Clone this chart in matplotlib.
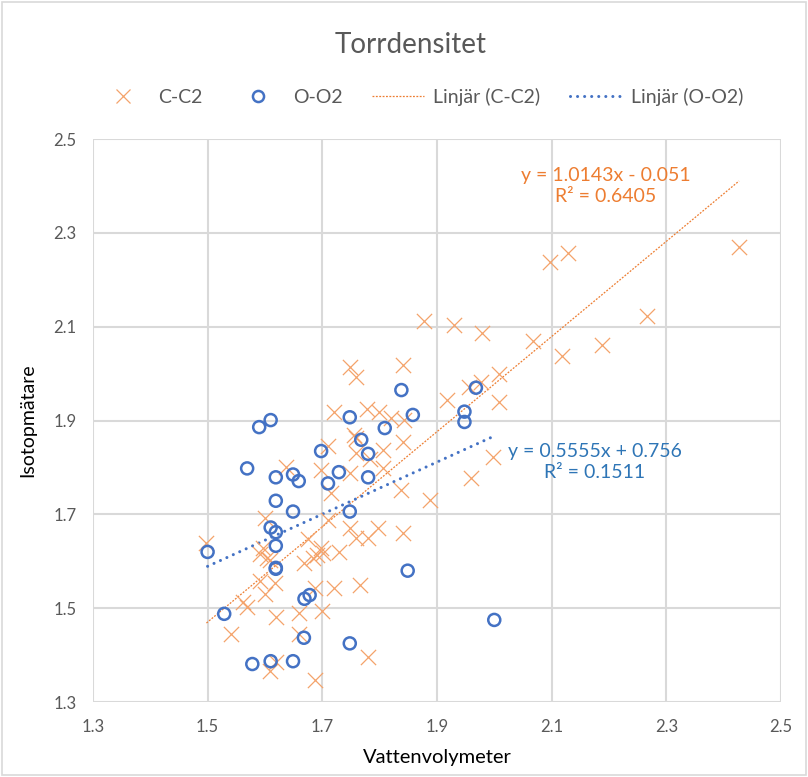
import numpy as np
import matplotlib
matplotlib.use("Agg")
import matplotlib.pyplot as plt
import matplotlib.patches as mpatches
from matplotlib.lines import Line2D

plt.rcParams['font.family'] = ['Lato', 'DejaVu Sans']

# C-C2 (orange crosses)
cc_x = [1.498, 1.540, 1.561, 1.569, 1.591, 1.591, 1.597, 1.600, 1.600, 1.603,
        1.608, 1.608, 1.617, 1.619, 1.619, 1.637, 1.659, 1.659, 1.669, 1.675,
        1.684, 1.688, 1.688, 1.690, 1.698, 1.698, 1.701, 1.700, 1.710, 1.710,
        1.716, 1.720, 1.720, 1.729, 1.748, 1.749, 1.749, 1.756, 1.758, 1.758,
        1.758, 1.759, 1.765, 1.778, 1.780, 1.780, 1.784, 1.797, 1.799, 1.806,
        1.806, 1.820, 1.838, 1.840, 1.840, 1.840, 1.842, 1.878, 1.888, 1.917,
        1.929, 1.956, 1.959, 1.977, 1.979, 1.997, 2.008, 2.008, 2.067, 2.098,
        2.118, 2.128, 2.188, 2.267, 2.427]
cc_y = [1.638, 1.445, 1.514, 1.502, 1.616, 1.557, 1.628, 1.692, 1.530, 1.606,
        1.603, 1.367, 1.553, 1.482, 1.386, 1.800, 1.490, 1.445, 1.596, 1.647,
        1.606, 1.542, 1.347, 1.613, 1.795, 1.628, 1.617, 1.495, 1.846, 1.689,
        1.745, 1.919, 1.544, 1.620, 1.670, 2.015, 1.789, 1.869, 1.862, 1.992,
        1.830, 1.649, 1.549, 1.924, 1.649, 1.397, 1.817, 1.670, 1.919, 1.837,
        1.798, 1.905, 1.752, 2.019, 1.855, 1.660, 1.901, 2.112, 1.731, 1.944,
        2.104, 1.972, 1.777, 1.983, 2.086, 1.823, 1.999, 1.939, 2.070, 2.237,
        2.038, 2.257, 2.061, 2.122, 2.271]

# O-O2 (blue circles)
oo_x = [1.500, 1.529, 1.569, 1.578, 1.590, 1.610, 1.610, 1.610, 1.619, 1.619,
        1.619, 1.619, 1.619, 1.619, 1.649, 1.649, 1.649, 1.659, 1.668, 1.669,
        1.678, 1.698, 1.710, 1.729, 1.748, 1.748, 1.748, 1.768, 1.780, 1.780,
        1.809, 1.838, 1.849, 1.858, 1.948, 1.948, 1.968, 2.000]
oo_y = [1.620, 1.488, 1.798, 1.381, 1.886, 1.901, 1.672, 1.387, 1.779, 1.729,
        1.662, 1.633, 1.586, 1.584, 1.785, 1.706, 1.387, 1.771, 1.437, 1.520,
        1.528, 1.835, 1.766, 1.790, 1.907, 1.706, 1.425, 1.859, 1.829, 1.779,
        1.884, 1.965, 1.580, 1.912, 1.919, 1.897, 1.970, 1.475]

# trendline coefficients as shown in the chart
cc_slope, cc_icpt, cc_r2 = 1.0143, -0.051, 0.6405
oo_slope, oo_icpt, oo_r2 = 0.5555, 0.756, 0.1511

ticks = [1.3, 1.5, 1.7, 1.9, 2.1, 2.3, 2.5]

orange = '#ED7D31'
orange_light = '#F4A36B'
blue = '#4472C4'
grid_c = '#D9D9D9'
text_c = '#595959'

cc_ls = (0, (1.5, 1.2))
oo_ls = (0, (0.01, 2.3))

fig = plt.figure(figsize=(8.08, 7.77), dpi=100)
ax = fig.add_axes([0.115, 0.0965, 0.8515, 0.7245])

ax.scatter(cc_x, cc_y, marker='x', s=120, color=orange_light, linewidths=0.9, zorder=3)
ax.scatter(oo_x, oo_y, marker='o', s=75, facecolors='none', edgecolors=blue,
           linewidths=1.8, zorder=4)

xs = np.array([min(cc_x), max(cc_x)])
ax.plot(xs, cc_slope * xs + cc_icpt, color=orange, lw=0.9, ls=cc_ls, zorder=2)
xs2 = np.array([min(oo_x), max(oo_x)])
ax.plot(xs2, oo_slope * xs2 + oo_icpt, color=blue, lw=2.2, ls=oo_ls,
        dash_capstyle='round', zorder=2)

ax.text(2.195, 2.400, 'y = %.4fx - %.3f\nR² = %.4f' % (cc_slope, -cc_icpt, cc_r2),
        color=orange, fontsize=14, ha='center', va='center', linespacing=1.25)
ax.text(2.175, 1.812, 'y = %.4fx + %.3f\nR² = %.4f' % (oo_slope, oo_icpt, oo_r2),
        color='#2E75B6', fontsize=14, ha='center', va='center', linespacing=1.25)

ax.set_xlim(1.3, 2.5)
ax.set_ylim(1.3, 2.5)
ax.set_xticks(ticks)
ax.set_yticks(ticks)
ax.set_xticklabels([str(t) for t in ticks])
ax.set_yticklabels([str(t) for t in ticks])
ax.grid(True, color=grid_c, lw=1.5, zorder=0)
ax.set_axisbelow(True)
for s in ax.spines.values():
    s.set_visible(False)
ax.tick_params(length=0, colors=text_c, labelsize=12, pad=12)

ax.set_xlabel('Vattenvolymeter', fontsize=14.5, labelpad=10)
ax.set_ylabel('Isotopmätare', fontsize=14, labelpad=12)

fig.text(0.508, 0.942, 'Torrdensitet', fontsize=20, color=text_c, ha='center', va='center')

handles = [
    Line2D([], [], marker='x', ls='none', color=orange_light, markersize=10, mew=0.9),
    Line2D([], [], marker='o', ls='none', mfc='none', mec=blue, markersize=8, mew=1.8),
    Line2D([], [], color=orange, lw=0.9, ls=cc_ls),
    Line2D([], [], color=blue, lw=2.2, ls=oo_ls, dash_capstyle='round'),
]
labels = ['C-C2', 'O-O2', 'Linjär (C-C2)', 'Linjär (O-O2)']
fig.legend(handles, labels, loc='center', bbox_to_anchor=(0.52, 0.875), ncol=4,
           frameon=False, fontsize=14, handlelength=2.7, columnspacing=1.5,
           handletextpad=0.45, labelcolor=text_c)

# chart border
fig.patches.append(mpatches.Rectangle((0.002, 0.002), 0.996, 0.996, transform=fig.transFigure,
                                      fill=False, edgecolor=grid_c, lw=1.2))

fig.savefig('out.png', dpi=100)
